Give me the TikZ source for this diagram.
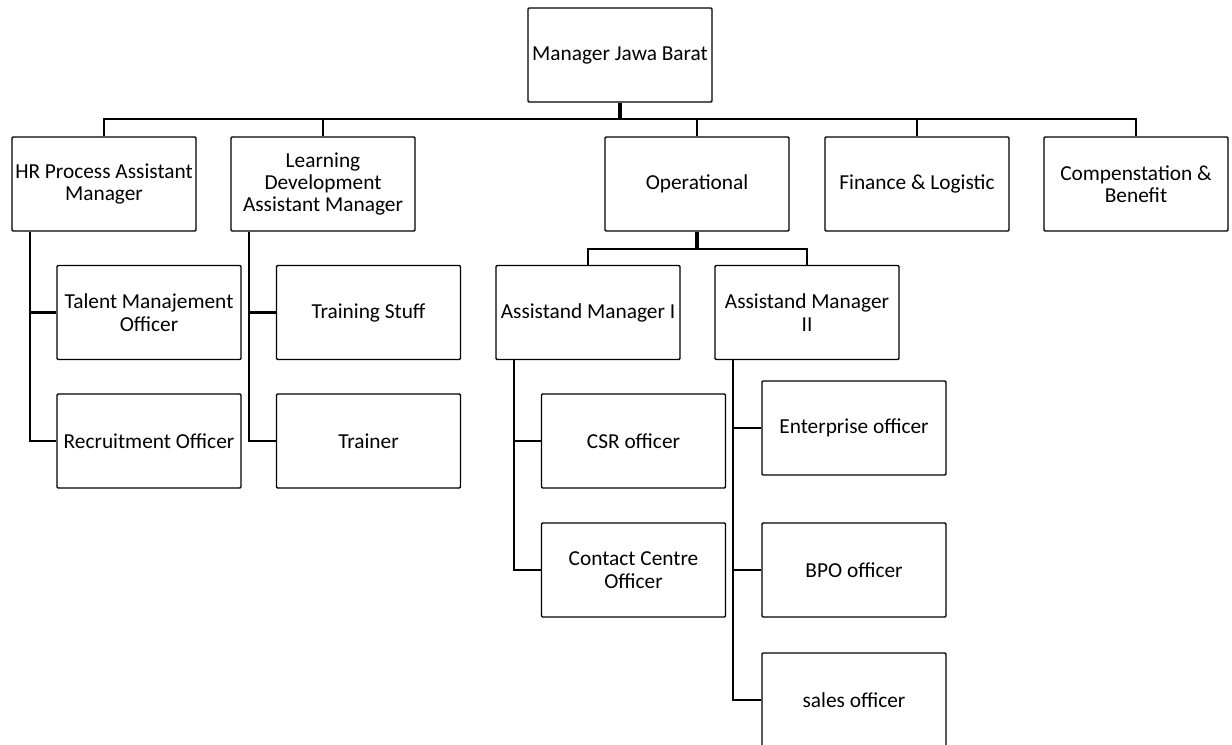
\documentclass[tikz,border=0pt]{standalone}
\usepackage{fontspec}
\setmainfont{Carlito}
\begin{document}
\begin{tikzpicture}[x=0.75pt,y=-0.75pt,
  box/.style={draw,line width=1.1pt,rounded corners=0.8pt,minimum width=138pt,minimum height=70.5pt,align=center,inner sep=2pt,font=\fontsize{16}{16.8}\selectfont},
  link/.style={line width=2pt},
  trunk/.style={line width=3pt}]
\useasboundingbox (0,0) rectangle (1232,744);

\node[box] (mgr) at (620,55) {Manager Jawa Barat};

\node[box] (hr) at (104,184) {HR Process Assistant\\Manager};
\node[box] (ld) at (323,184) {Learning\\Development\\Assistant Manager};
\node[box] (ops) at (697,184) {Operational};
\node[box] (fin) at (917,184) {Finance \& Logistic};
\node[box] (comp) at (1136,184) {Compenstation \&\\Benefit};

\node[box] (talent) at (149,312.5) {Talent Manajement\\Officer};
\node[box] (recruit) at (149,441) {Recruitment Officer};
\node[box] (train) at (368.5,312.5) {Training Stuff};
\node[box] (trainer) at (368.5,441) {Trainer};

\node[box] (am1) at (588,312.5) {Assistand Manager I};
\node[box] (am2) at (807,312.5) {Assistand Manager\\II};
\node[box] (csr) at (633.5,441) {CSR officer};
\node[box] (contact) at (633.5,570) {Contact Centre\\Officer};
\node[box] (enter) at (854,428) {Enterprise officer};
\node[box] (bpo) at (854,570) {BPO officer};
\node[box] (sales) at (854,700) {sales officer};

\coordinate (bus) at (620,119);
\draw[trunk] (mgr.south) -- (bus);
\draw[link] (hr.north) |- (bus) -| (comp.north);
\foreach \n in {ld,ops,fin}
  \draw[link] (\n.north) -- (\n.north |- bus);

\coordinate (opsbus) at (697,249);
\draw[trunk] (ops.south) -- (opsbus);
\draw[link] (am1.north) |- (opsbus) -| (am2.north);

\coordinate (hrline) at ([xshift=14pt]hr.south west);
\draw[link] (hrline) |- (recruit.west);
\draw[link] (hrline |- talent.west) -- (talent.west);

\coordinate (ldline) at ([xshift=14pt]ld.south west);
\draw[link] (ldline) |- (trainer.west);
\draw[link] (ldline |- train.west) -- (train.west);

\coordinate (am1line) at ([xshift=14pt]am1.south west);
\draw[link] (am1line) |- (contact.west);
\draw[link] (am1line |- csr.west) -- (csr.west);

\coordinate (am2line) at ([xshift=14pt]am2.south west);
\draw[link] (am2line) |- (sales.west);
\foreach \n in {enter,bpo}
  \draw[link] (am2line |- \n.west) -- (\n.west);
\end{tikzpicture}
\end{document}
